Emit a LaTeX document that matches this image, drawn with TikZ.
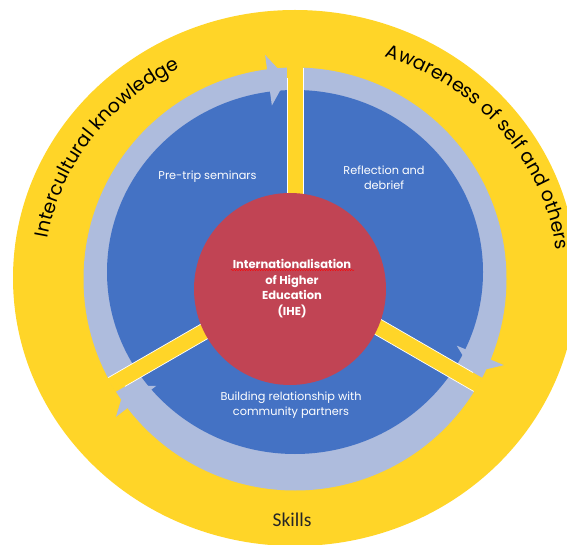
\documentclass[tikz,border=0pt]{standalone}
\usepackage{fontspec}
\newfontfamily\gfont{Poppins}
\newfontfamily\cfont{Carlito}
\usetikzlibrary{decorations.text,decorations.pathmorphing,calc}
\definecolor{ringyellow}{RGB}{255,213,40}
\definecolor{segblue}{RGB}{68,114,196}
\definecolor{arrowlav}{RGB}{174,188,221}
\definecolor{hubred}{RGB}{193,68,84}
\tikzset{
  seglabel/.style={text=white, align=center, font=\gfont\fontsize{11.3}{15}\selectfont, inner sep=0pt},
  hublabel/.style={text=white, align=center, font=\gfont\bfseries\fontsize{11.5}{15.5}\selectfont, inner sep=0pt},
  baredge/.style={draw=white, line width=0.7pt},
  ringtext/.style={decorate, decoration={text along path, #1}},
}
\begin{document}
\begin{tikzpicture}[x=1pt,y=1pt]
\useasboundingbox (0,0) rectangle (567,544);
\fill[white] (0,0) rectangle (567,544);
\clip (0,0) rectangle (567,544);
\coordinate (C) at (295,265);
% outer yellow ring
\fill[ringyellow] (295,266) ellipse [x radius=282, y radius=268];
% lavender arrow band
\fill[arrowlav, even odd rule] (C) circle [radius=211.5] (C) circle [radius=170];
% blue disc
\fill[segblue] (295,272) ellipse [x radius=188, y radius=182];
% arrow heads
\foreach \a in {90,-30,210} {
  \fill[arrowlav, shift={(C)}] (\a+2.3:201) -- (\a+7.6:226) -- (\a+7.6:175) -- cycle;
}
% dividing bars
\foreach \a in {90,-30,210} {
  \begin{scope}[shift={(C)}, rotate=\a]
    \fill[ringyellow] (0,-8) rectangle (212,8);
    \draw[baredge] (0,8) -- (201,8);
    \draw[baredge] (0,-8) -- (211,-8);
  \end{scope}
}
% hub
\fill[hubred] (290,255) circle [radius=96];
\node[hublabel] (hub) at (292,255.5) {Internationalisation\\of Higher\\Education\\(IHE)};
\coordinate (ulA) at (231,274);
\coordinate (ulB) at (354,274);
\draw[red, line width=0.4pt, decorate, decoration={snake, amplitude=0.6pt, segment length=2.5pt}] (ulA) -- (ulB);
% segment labels
\node[seglabel] (pre) at (207.5,367) {Pre-trip seminars};
\node[seglabel] (refl) at (384,366) {Reflection and\\debrief};
\node[seglabel] (build) at (291,138.5) {Building relationship with\\community partners};
% ring labels
\path[ringtext={text align=center, text={|\gfont\fontsize{19}{22}\selectfont|Intercultural knowledge}}]
  (295,266) ++(178:251pt and 236pt) arc[start angle=178, end angle=110, x radius=251pt, y radius=236pt];
\path[ringtext={text align=left, text={|\gfont\fontsize{19}{22}\selectfont|Awareness of self and others}}]
  (295,266) ++(70:263pt and 236pt) arc[start angle=70, end angle=-30, x radius=263pt, y radius=236pt];
\node[font=\cfont\fontsize{19.5}{22}\selectfont, text=black!85, inner sep=0pt] (skills) at (292,24) {Skills};
\end{tikzpicture}
\end{document}
